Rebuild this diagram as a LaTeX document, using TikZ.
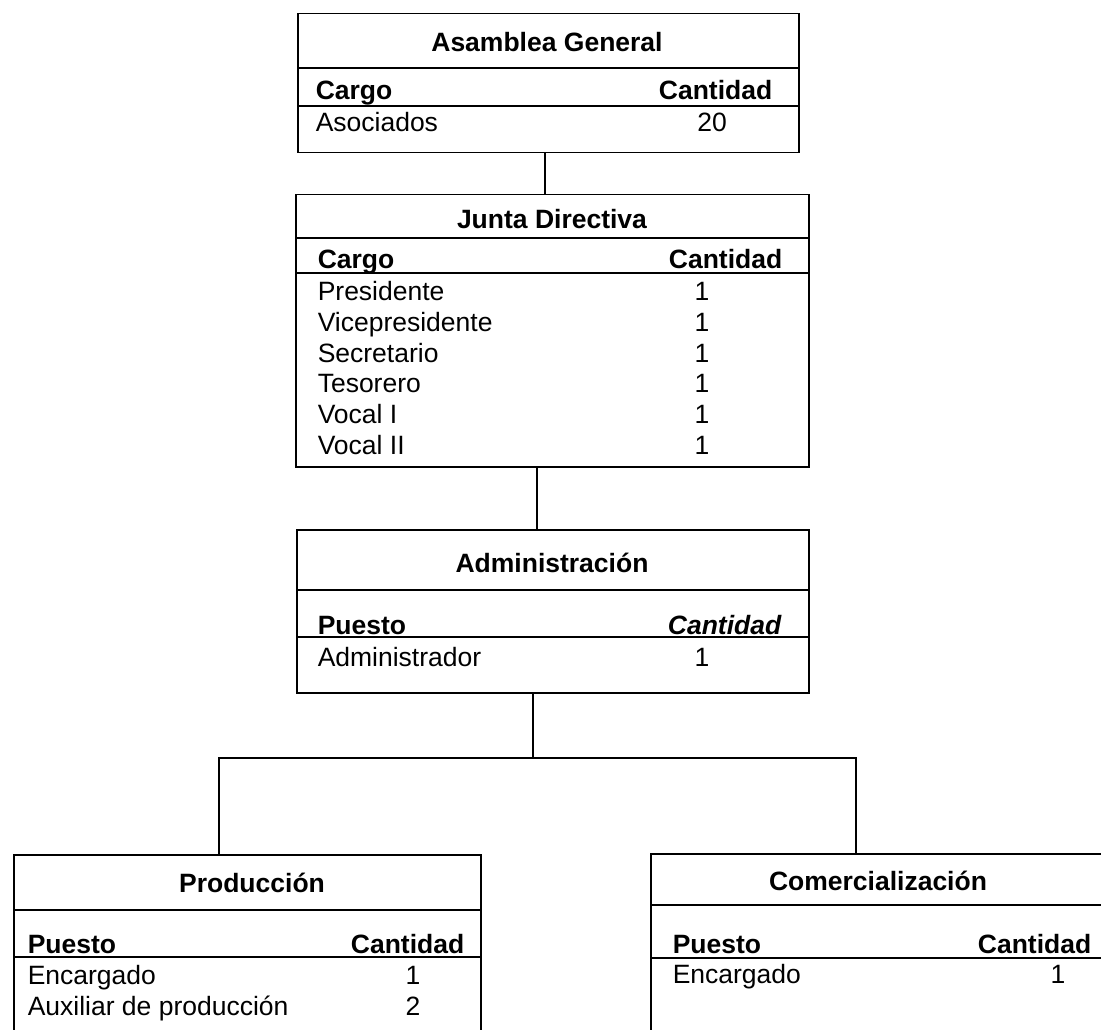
\documentclass[tikz,border=0pt]{standalone}
\usepackage{fontspec}
\setmainfont{Liberation Sans}
\begin{document}
\begin{tikzpicture}[x=1pt,y=-1pt,line width=1.5pt,
  txt/.style={inner sep=0pt,font=\fontsize{26.5}{31}\selectfont},
  hd/.style={inner sep=0pt,font=\fontsize{26.5}{31}\selectfont\bfseries},
  hdi/.style={inner sep=0pt,font=\fontsize{26.5}{31}\selectfont\bfseries\itshape},
  frame/.style={draw,rectangle,inner sep=0pt,anchor=north west}]
\useasboundingbox (0,0) rectangle (1101,1030);
\begin{scope}
\clip (0,0) rectangle (1101,1030);
% ---------- Asamblea General
\node[frame,minimum width=501pt,minimum height=139pt] (asam) at (297,13) {};
\draw (297,68) -- (798,68);
\draw (297,106) -- (798,106);
\node[hd,anchor=base] (asamT) at (547,52) {Asamblea General};
\node[hd,anchor=base west] (asamC) at (315,100) {Cargo};
\node[hd,anchor=base east] (asamQ) at (773,100) {Cantidad};
\node[txt,anchor=base west] (asam1) at (315,132) {Asociados};
\node[txt,anchor=base] (asam1n) at (712,132) {20};
% ---------- Junta Directiva
\node[frame,minimum width=513pt,minimum height=272pt] (junta) at (295,194) {};
\draw (295,238) -- (808,238);
\draw (295,273) -- (808,273);
\node[hd,anchor=base] (juntaT) at (552,228) {Junta Directiva};
\node[hd,anchor=base west] (juntaC) at (317,268) {Cargo};
\node[hd,anchor=base east] (juntaQ) at (783,268) {Cantidad};
\node[txt,anchor=base west] (j1) at (317,300) {Presidente};
\node[txt,anchor=base west] (j2) at (317,331) {Vicepresidente};
\node[txt,anchor=base west] (j3) at (317,362) {Secretario};
\node[txt,anchor=base west] (j4) at (317,392) {Tesorero};
\node[txt,anchor=base west] (j5) at (317,423) {Vocal I};
\node[txt,anchor=base west] (j6) at (317,454) {Vocal II};
\node[txt,anchor=base] (j1n) at (702,300) {1};
\node[txt,anchor=base] (j2n) at (702,331) {1};
\node[txt,anchor=base] (j3n) at (702,362) {1};
\node[txt,anchor=base] (j4n) at (702,392) {1};
\node[txt,anchor=base] (j5n) at (702,423) {1};
\node[txt,anchor=base] (j6n) at (702,454) {1};
% ---------- Administracion
\node[frame,minimum width=512pt,minimum height=163pt] (admin) at (296,529) {};
\draw (296,590) -- (808,590);
\draw (296,637) -- (808,637);
\node[hd,anchor=base] (adminT) at (552,572) {Administración};
\node[hd,anchor=base west] (adminC) at (317,634) {Puesto};
\node[hdi,anchor=base east] (adminQ) at (782,634) {Cantidad};
\node[txt,anchor=base west] (a1) at (317,666) {Administrador};
\node[txt,anchor=base] (a1n) at (702,666) {1};
% ---------- Produccion
\node[frame,minimum width=467pt,minimum height=191pt] (prod) at (13,854) {};
\draw (13,910) -- (480,910);
\draw (13,957) -- (480,957);
\node[hd,anchor=base] (prodT) at (252,892) {Producción};
\node[hd,anchor=base west] (prodC) at (27,953) {Puesto};
\node[hd,anchor=base east] (prodQ) at (465,953) {Cantidad};
\node[txt,anchor=base west] (p1) at (27,984) {Encargado};
\node[txt,anchor=base west] (p2) at (27,1015) {Auxiliar de producción};
\node[txt,anchor=base] (p1n) at (413,984) {1};
\node[txt,anchor=base] (p2n) at (413,1015) {2};
% ---------- Comercializacion
\node[frame,minimum width=456pt,minimum height=192pt] (comer) at (650,853) {};
\draw (650,905) -- (1106,905);
\draw (650,958) -- (1106,958);
\node[hd,anchor=base] (comerT) at (878,890) {Comercialización};
\node[hd,anchor=base west] (comerC) at (672,953) {Puesto};
\node[hd,anchor=base east] (comerQ) at (1092,953) {Cantidad};
\node[txt,anchor=base west] (c1) at (672,983) {Encargado};
\node[txt,anchor=base] (c1n) at (1058,983) {1};
% ---------- connectors
\coordinate (k1) at (545,0);
\coordinate (k2) at (537,0);
\coordinate (k3) at (533,0);
\coordinate (busL) at (219,758);
\coordinate (busR) at (856,758);
\draw (asam.south -| k1) -- (junta.north -| k1);
\draw (junta.south -| k2) -- (admin.north -| k2);
\draw (admin.south -| k3) -- (k3 |- busL);
\draw (prod.north -| busL) -- (busL) -- (busR) -- (comer.north -| busR);
\end{scope}
\end{tikzpicture}
\end{document}
